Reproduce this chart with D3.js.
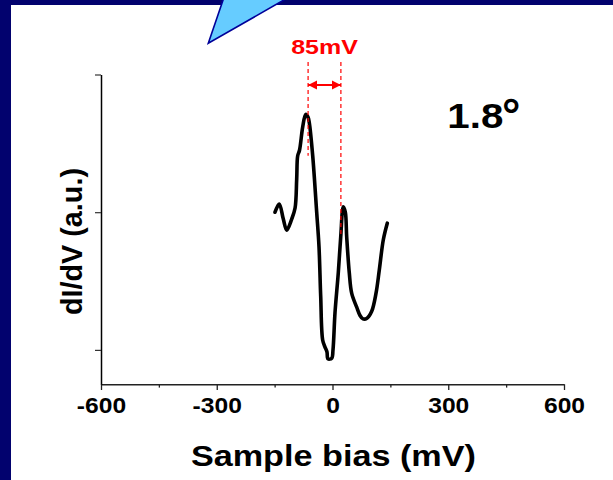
<!DOCTYPE html>
<html>
<head>
<meta charset="utf-8">
<script src="https://cdn.jsdelivr.net/npm/d3@7"></script>
<style>
  html, body { margin: 0; padding: 0; background: #fff; }
  svg { display: block; }
  text { font-family: "Liberation Sans", Arial, Helvetica, sans-serif; font-weight: bold; }
</style>
</head>
<body>
<svg id="chart" width="613" height="480"></svg>
<script>
// Tunneling spectrum dI/dV vs. sample bias (arbitrary units)
const biasMV = [-149, -138, -127.5, -118.7, -105.7, -97, -92.8, -90.2, -85.5, -77.2, -69.5, -63.5, -60.1,
  -51.3, -41, -35, -30.6, -25.4, -19.4, -14.3, -11.7, -2, 1.3, 6.5, 15, 21.3, 28, 33.2, 36.8, 43.5,
  49.8, 62.7, 71.3, 79, 89.4, 101.6, 112.7, 121.3, 131.7, 142];
const dIdV = [2.00, 2.06, 1.95, 1.87, 1.95, 2.03, 2.24, 2.41, 2.45, 2.62, 2.71, 2.69, 2.65,
  2.41, 2.00, 1.75, 1.39, 1.07, 1.02, 0.985, 0.935, 0.94, 1.00, 1.27, 1.56, 1.82, 2.04, 2.00, 1.82, 1.56,
  1.41, 1.31, 1.25, 1.225, 1.23, 1.28, 1.41, 1.58, 1.80, 1.92];

const xTicks = [-600, -300, 0, 300, 600];
const xMinorTicks = [-450, -150, 150, 450];
const yTicks = [1, 2, 3];

// Peak-to-peak gap annotation (mV), centred between the two coherence peaks
const gapMV = 85;
const gapCentreMV = -20.75;
const gapLabel = gapMV + "mV";
const dashBottom = [2.41, 1.82];
const angleLabel = "1.8";

const svg = d3.select("#chart");
const W = 613, H = 480;

// slide frame
svg.append("rect").attr("width", W).attr("height", H).attr("fill", "#02026e");
svg.append("rect").attr("x", 11).attr("y", 5).attr("width", W - 11).attr("height", H - 5).attr("fill", "#fff");

// callout pointer
svg.append("polygon")
  .attr("points", "208.3,43.3 223.4,-1 285.6,-1")
  .attr("fill", "#66ccff").attr("stroke", "#000099").attr("stroke-width", 1.6)
  .attr("stroke-linejoin", "miter");

const x = d3.scaleLinear().domain([-600, 600]).range([101, 564]);
const y = d3.scaleLinear().domain([0.75, 3]).range([384.3, 74.5]);

// x axis: minor ticks first, then major ticks with labels
svg.append("g").attr("transform", `translate(0,${y(0.75)})`)
  .call(d3.axisBottom(x).tickValues(xMinorTicks).tickSize(3.3).tickSizeOuter(0).tickFormat(""))
  .call(g => g.select(".domain").remove())
  .call(g => g.selectAll("line").attr("stroke", "#222").attr("stroke-width", 1.3));

const xAxis = svg.append("g").attr("transform", `translate(0,${y(0.75)})`)
  .call(d3.axisBottom(x).tickValues(xTicks).tickSize(5.7).tickSizeOuter(0).tickFormat(d3.format("d")));
xAxis.select(".domain").attr("stroke", "#222").attr("stroke-width", 1.5);
xAxis.selectAll("line").attr("stroke", "#222").attr("stroke-width", 1.3);
xAxis.selectAll("text")
  .attr("y", 28.7).attr("dy", 0)
  .attr("font-size", 22).attr("fill", "#000")
  .style("font-family", '"Liberation Sans", Arial, sans-serif').style("font-weight", "bold")
  .attr("transform", "scale(1.12,1)")
  .text(d => d < 0 ? "-" + Math.abs(d) : d);

// y axis: unlabelled ticks
const yAxis = svg.append("g").attr("transform", `translate(${x(-600)},0)`)
  .call(d3.axisLeft(y).tickValues(yTicks).tickSize(6).tickSizeOuter(0).tickFormat(""));
yAxis.select(".domain").attr("stroke", "#000").attr("stroke-width", 1.5);
yAxis.selectAll("line").attr("stroke", "#333").attr("stroke-width", 1.2);

// axis titles
svg.append("text")
  .attr("transform", "translate(333.4,466)")
  .attr("text-anchor", "middle").attr("font-size", 29)
  .attr("textLength", 285).attr("lengthAdjust", "spacingAndGlyphs")
  .attr("fill", "#000").text("Sample bias (mV)");

svg.append("text")
  .attr("transform", "translate(81.7,241.5) scale(1.12,1) rotate(-90)")
  .attr("text-anchor", "middle").attr("font-size", 26.5)
  .attr("textLength", 147).attr("lengthAdjust", "spacingAndGlyphs")
  .attr("fill", "#000").text("dI/dV (a.u.)");

// spectrum
const pts = biasMV.map((b, i) => [b, dIdV[i]]);
svg.append("path")
  .datum(pts)
  .attr("fill", "none").attr("stroke", "#000").attr("stroke-width", 3.6)
  .attr("stroke-linejoin", "round").attr("stroke-linecap", "round")
  .attr("d", d3.line().x(d => x(d[0])).y(d => y(d[1])).curve(d3.curveCatmullRom.alpha(0.5)));

// gap annotation
const gapEdges = [gapCentreMV - gapMV / 2, gapCentreMV + gapMV / 2];
const red = "#ff0000";
gapEdges.forEach((m, i) => {
  svg.append("line")
    .attr("x1", x(m)).attr("x2", x(m))
    .attr("y1", 62).attr("y2", y(dashBottom[i]))
    .attr("stroke", red).attr("stroke-width", 1.2).attr("stroke-dasharray", "4,3");
});

const defs = svg.append("defs");
defs.append("marker").attr("id", "head").attr("viewBox", "0 0 10 10")
  .attr("refX", 10).attr("refY", 5).attr("markerWidth", 9).attr("markerHeight", 10)
  .attr("markerUnits", "userSpaceOnUse").attr("orient", "auto-start-reverse")
  .append("path").attr("d", "M0,0 L10,5 L0,10 Z").attr("fill", red);

svg.append("line")
  .attr("x1", x(gapEdges[0])).attr("x2", x(gapEdges[1]))
  .attr("y1", 85).attr("y2", 85)
  .attr("stroke", red).attr("stroke-width", 1.8)
  .attr("marker-start", "url(#head)").attr("marker-end", "url(#head)");

svg.append("text")
  .attr("x", x(gapCentreMV)).attr("y", 54)
  .attr("text-anchor", "middle").attr("font-size", 19.5)
  .attr("textLength", 66.7).attr("lengthAdjust", "spacingAndGlyphs")
  .attr("fill", red).text(gapLabel);

// twist angle
svg.append("text")
  .attr("x", 447.3).attr("y", 128.3).attr("font-size", 35)
  .attr("textLength", 56).attr("lengthAdjust", "spacingAndGlyphs")
  .attr("fill", "#000").text(angleLabel);
svg.append("text")
  .attr("x", 502).attr("y", 131).attr("font-size", 46)
  .attr("fill", "#000").text("°");
</script>
</body>
</html>
